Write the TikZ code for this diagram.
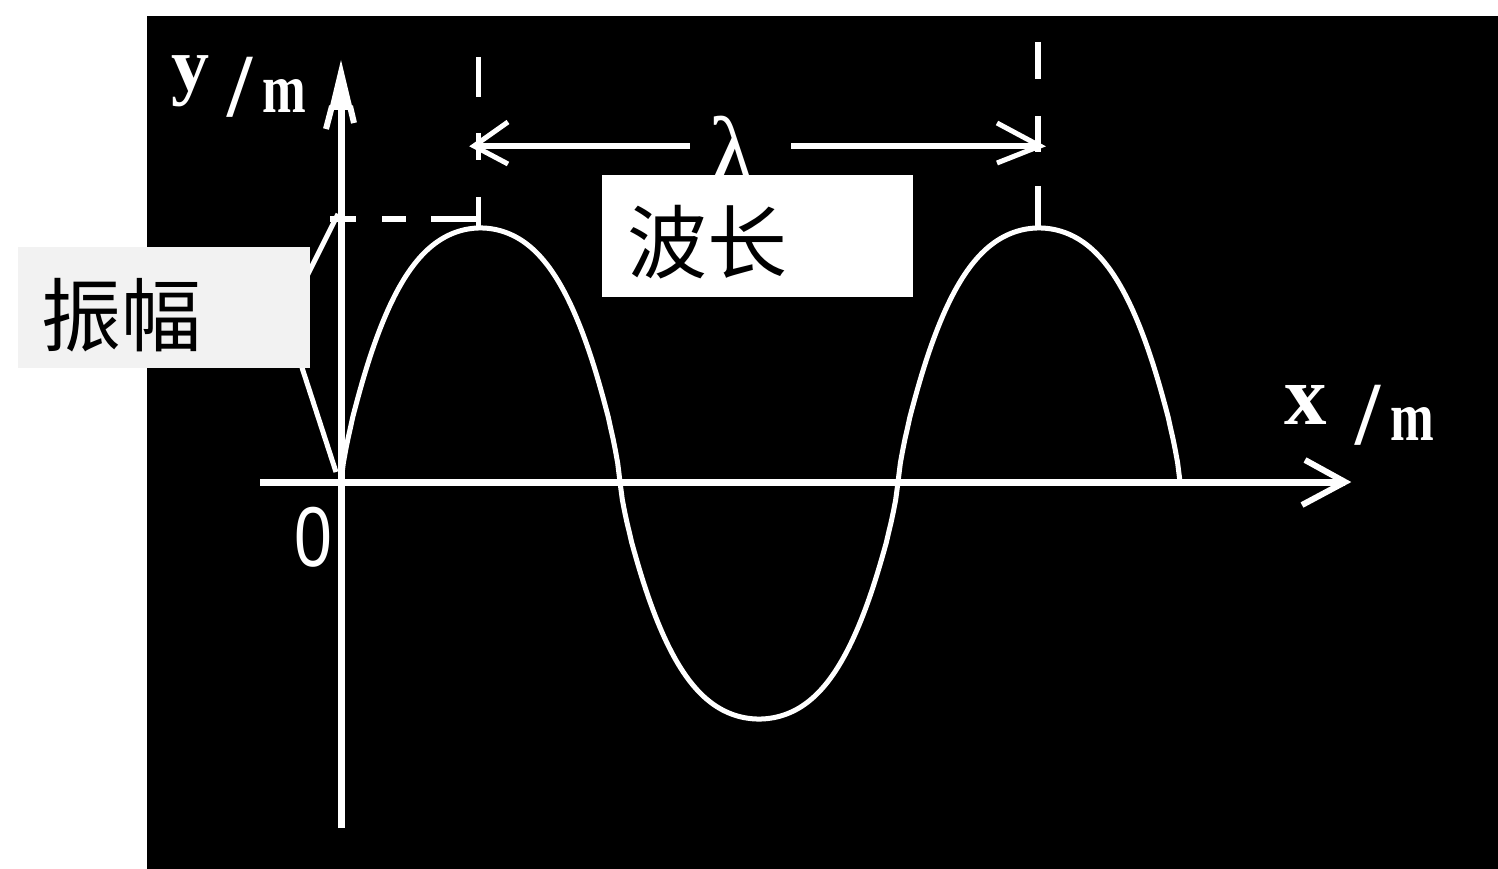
\documentclass[tikz,border=0pt]{standalone}
\usepackage{fontspec}
\setmainfont{Liberation Serif}
\newfontfamily\cjk{Noto Sans CJK SC}
\newfontfamily\digitfont{Liberation Sans}
\begin{document}
\begin{tikzpicture}[x=1pt,y=-1pt,
  declare function={shp(\s)=pow(\s+0.00001,0.72-0.3*\s);},
  axisline/.style={white,line width=7pt},
  waveline/.style={white,line width=5pt,line join=round},
  guide/.style={white,line width=6pt},
  thinguide/.style={white,line width=5pt},
  barb/.style={white,line width=6pt,line join=miter},
  calloutline/.style={white,line width=5pt},
  axlbl/.style={white,inner sep=0pt,font=\bfseries},
  cjklbl/.style={black,inner sep=0pt,font={\cjk\fontsize{80pt}{80pt}\selectfont}},
  labelbox/.style={inner sep=0pt,draw=none}]
\useasboundingbox (0,0) rectangle (1498,869);
% black panel
\fill[black] (147,16) rectangle (1498,869);

% coordinates
\coordinate (O) at (341,482);
\coordinate (ytop) at (341,106);
\coordinate (ybot) at (341,828);
\coordinate (xl) at (260,482);
\coordinate (xr) at (1345,482);

% wave (rounded, hand-drawn-like humps)
\draw[waveline] plot[domain=341:620,samples=120] (\x,{482-254*shp(abs(sin((\x-341)/279*180)))});
\draw[waveline] plot[domain=620:898,samples=120] (\x,{482+237*shp(abs(sin((\x-620)/278*180)))});
\draw[waveline] plot[domain=898:1180,samples=120] (\x,{482-254*shp(abs(sin((\x-898)/282*180)))});

% axes
\draw[axisline] (ybot) -- (ytop);
\fill[white] (341,60) -- (353,110) -- (329,110) -- cycle;
\draw[white,line width=6pt] (332,106) -- (326,129);
\draw[white,line width=6pt] (350,106) -- (354,123);
\draw[axisline] (xl) -- (xr);
\draw[barb] (1305,460) -- (xr) -- (1302,505);

% amplitude dashes
\draw[guide] (330,219) -- (356,219) (382,219) -- (406,219) (431,219) -- (480,219);

% wavelength guides
\draw[thinguide] (478,57) -- (478,97) (478,133) -- (478,160) (478,197) -- (478,226);
\draw[guide] (1038,42) -- (1038,79) (1038,116) -- (1038,152) (1038,186) -- (1038,228);

% wavelength arrows
\coordinate (al) at (474,146);
\coordinate (ar) at (1040,146);
\draw[guide] (al) -- (690,146);
\draw[guide] (791,146) -- (ar);
\draw[barb,line width=5pt] (508,122) -- (al) -- (508,164);
\draw[barb,line width=5pt] (997,123) -- (ar) -- (997,163);

% lambda
\node[white,inner sep=0pt,font=\fontsize{100pt}{100pt}\selectfont] (lam) at (733,151) {λ};

% callout lines for amplitude
\draw[calloutline] (338,214) -- (300,290);
\draw[calloutline] (336,472) -- (294,343);

% label boxes
\node[labelbox,fill={rgb,255:red,242;green,242;blue,242},minimum width=292pt,minimum height=121pt] (ampbox) at (164,307.5) {};
\node[cjklbl] (amp) at (121,315) {振幅};
\node[labelbox,fill=white,minimum width=311pt,minimum height=122pt] (wlbox) at (757.5,236) {};
\node[cjklbl] (wl) at (707,242) {波长};

% axis labels
\node[axlbl,font=\bfseries\fontsize{76pt}{76pt}\selectfont] (ylab) at (190,81) {y};
\node[axlbl,font=\bfseries\fontsize{90pt}{90pt}\selectfont] (yslash) at (240,87) {/};
\node[axlbl,font=\bfseries\fontsize{70pt}{70pt}\selectfont,xscale=0.75] (yunit) at (284,96) {m};
\node[axlbl,font=\bfseries\fontsize{85pt}{85pt}\selectfont] (xlab) at (1306,405) {x};
\node[axlbl,font=\bfseries\fontsize{90pt}{90pt}\selectfont] (xslash) at (1368,415) {/};
\node[axlbl,font=\bfseries\fontsize{70pt}{70pt}\selectfont,xscale=0.75] (xunit) at (1412,424) {m};
\node[white,inner sep=0pt,font=\digitfont\fontsize{85pt}{85pt}\selectfont,xscale=0.8] (zero) at (313,537) {0};
\end{tikzpicture}
\end{document}
